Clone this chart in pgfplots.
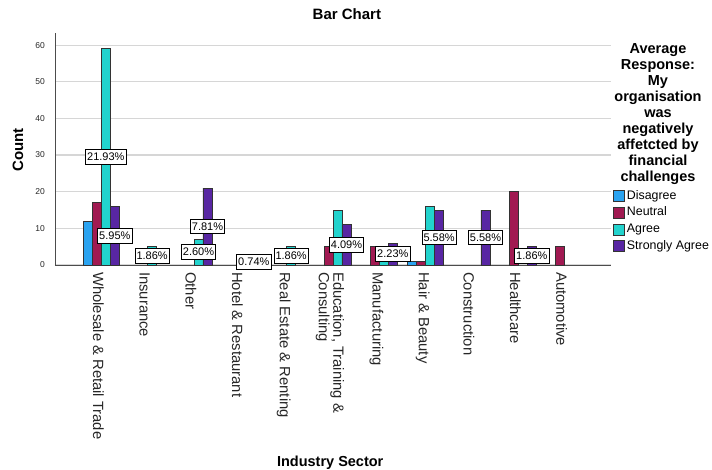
\documentclass[border=0pt]{standalone}
\usepackage{pgfplots}
\pgfplotsset{compat=1.18}
\usepackage{fontspec}
\setmainfont{Liberation Sans}
\definecolor{cDis}{HTML}{2AA3F0}
\definecolor{cNeu}{HTML}{A11A52}
\definecolor{cAgr}{HTML}{22D3CD}
\definecolor{cSA}{HTML}{5826A3}
\definecolor{gridc}{HTML}{D6D6D6}
\begin{document}
\begin{tikzpicture}[x=1pt,y=1pt]
\useasboundingbox (0,0) rectangle (712,470);
\begin{axis}[
  at={(55pt,205pt)}, anchor=south west,
  scale only axis, width=556pt, height=232pt,
  xmin=-1, xmax=11, ymin=0, ymax=63.3,
  clip=false,
  axis x line*=bottom, axis y line*=left,
  axis line style={draw=black!70, line width=0.9pt, -},
  ymajorgrids, grid style={gridc, line width=1.1pt},
  ytick={0,10,...,60},
  xtick={0,...,10},
  xticklabels={Wholesale \& Retail Trade, Insurance, Other, Hotel \& Restaurant, Real Estate \& Renting, {Education, Training \&\\Consulting}, Manufacturing, Hair \& Beauty, Construction, Healthcare, Automotive},
  major tick length=0pt,
  xticklabel style={font=\fontsize{14.8}{14.5}\selectfont, xshift=-3pt, rotate=-90, anchor=west, align=left, inner sep=0pt, text=black!85},
  xticklabel shift=7pt,
  yticklabel style={font=\fontsize{8.5}{10}\selectfont, inner sep=0pt, text=black!85},
  yticklabel shift=10pt,
  /pgf/number format/assume math mode=true,
  title={Bar Chart},
  title style={at={(rel axis cs:0.525,1.056)}, anchor=center, font=\bfseries\fontsize{15}{18}\selectfont},
  xlabel={Industry Sector},
  xlabel style={at={(rel axis cs:0.495,-0.853)}, anchor=center, font=\bfseries\fontsize{14.5}{17}\selectfont},
  ylabel={Count},
  ylabel style={at={(rel axis cs:-0.0665,0.496)}, anchor=center, font=\bfseries\fontsize{15}{18}\selectfont},
  legend style={at={(rel axis cs:1.0036,0.3233)}, anchor=north west, draw=none, fill=none,
    font=\fontsize{12.4}{13}\selectfont, row sep=5pt, inner sep=0pt,
    nodes={inner sep=0pt, text height=9pt, text depth=2.5pt},
    /tikz/every odd column/.append style={column sep=2pt}},
  legend cell align=left,
  legend image code/.code={\draw[#1] (0pt,-5.5pt) rectangle (11pt,5.5pt);},
]
\addplot[ybar, bar width=0.194, bar shift=-0.291, fill=cDis, draw=black!80, line width=0.7pt]
  coordinates {(0,12) (7,1)};
\addplot[ybar, bar width=0.194, bar shift=-0.097, fill=cNeu, draw=black!80, line width=0.7pt]
  coordinates {(0,17) (5,5) (6,5) (7,1) (9,20) (10,5)};
\addplot[ybar, bar width=0.194, bar shift=0.097, fill=cAgr, draw=black!80, line width=0.7pt]
  coordinates {(0,59) (1,5) (2,7) (4,5) (5,15) (6,1) (7,16)};
\addplot[ybar, bar width=0.194, bar shift=0.291, fill=cSA, draw=black!80, line width=0.7pt]
  coordinates {(0,16) (2,21) (3,2) (5,11) (6,6) (7,15) (8,15) (9,5)};
\legend{Disagree,Neutral,Agree,Strongly Agree}
\addplot[draw=none, mark=none, forget plot, nodes near coords, point meta=explicit symbolic,
  nodes near coords style={anchor=center, draw=black, fill=white, line width=0.8pt, text=black,
    font=\fontsize{11}{12}\selectfont, inner xsep=1.6pt, inner ysep=3.4pt}]
  coordinates {
  (0.097,29.5) [21.93\%]
  (0.291,8) [5.95\%]
  (1.097,2.5) [1.86\%]
  (2.097,3.5) [2.60\%]
  (2.291,10.5) [7.81\%]
  (3.291,0.8) [0.74\%]
  (4.097,2.5) [1.86\%]
  (5.291,5.5) [4.09\%]
  (6.291,3) [2.23\%]
  (7.291,7.5) [5.58\%]
  (8.291,7.5) [5.58\%]
  (9.291,2.5) [1.86\%]
  };
\node[anchor=north, align=center, inner sep=0pt, font=\bfseries\fontsize{14.5}{16}\selectfont]
  at (rel axis cs:1.0845,0.957) {Average\\Response:\\My\\organisation\\was\\negatively\\affetcted by\\financial\\challenges};
\end{axis}
\end{tikzpicture}
\end{document}
